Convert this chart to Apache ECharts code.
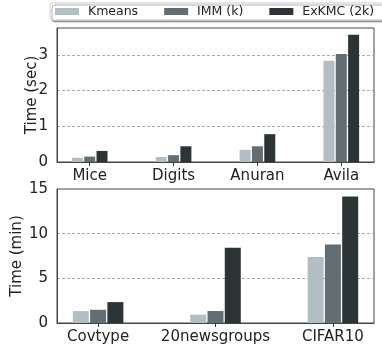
<!DOCTYPE html>
<html><head><meta charset="utf-8">
<script src="https://cdn.jsdelivr.net/npm/echarts@6/dist/echarts.min.js"></script>
<style>html,body{margin:0;padding:0;background:#fff}#c{width:382px;height:351px}</style>
</head><body><div id="c"></div>
<script>
var seriesNames = ['Kmeans', 'IMM (k)', 'ExKMC (2k)'];
var colors = ['#b2bec3', '#636e72', '#2d3436'];
var catsTop = ['Mice', 'Digits', 'Anuran', 'Avila'];
var kmeansTop = [0.12, 0.14, 0.34, 2.83];
var immTop = [0.15, 0.19, 0.44, 3.02];
var exkmcTop = [0.31, 0.44, 0.78, 3.56];
var catsBot = ['Covtype', '20newsgroups', 'CIFAR10'];
var kmeansBot = [1.34, 0.93, 7.39];
var immBot = [1.48, 1.34, 8.8];
var exkmcBot = [2.34, 8.43, 14.16];

var FONT = 'DejaVu Sans';
var chart = echarts.init(document.getElementById('c'));

function pts(arr) { return arr.map(function (v, i) { return [i, v]; }); }
function idx(n) { var a = []; for (var i = 0; i < n; i++) a.push(i); return a; }

function xAx(gi, cats, pad) {
  return {
    type: 'value', gridIndex: gi, min: -pad, max: cats.length - 1 + pad,
    splitLine: { show: false },
    axisLine: { show: true, onZero: false, lineStyle: { color: '#444', width: 1 } },
    axisTick: { show: true, customValues: idx(cats.length), length: 4, lineStyle: { color: '#333' } },
    axisLabel: {
      customValues: idx(cats.length), margin: 7,
      formatter: function (v) { return cats[Math.round(v)]; },
      fontFamily: FONT, fontSize: 15, color: '#222'
    }
  };
}
function yAx(gi, max, interval, name, gap) {
  return {
    type: 'value', gridIndex: gi, min: 0, max: max, interval: interval,
    name: name, nameLocation: 'middle', nameGap: gap, nameMoveOverlap: false,
    nameTextStyle: { fontFamily: FONT, fontSize: 15, color: '#222' },
    axisLine: { show: true, onZero: false, lineStyle: { color: '#444', width: 1 } },
    axisTick: { show: false },
    axisLabel: { margin: 9, fontFamily: FONT, fontSize: 15, color: '#222', showMaxLabel: max % interval === 0 },
    splitLine: { show: true, showMinLine: false, showMaxLine: false, lineStyle: { color: '#aaa', type: [3, 2], width: 1 } }
  };
}
var series = [];
var topData = [kmeansTop, immTop, exkmcTop];
var botData = [kmeansBot, immBot, exkmcBot];
for (var s = 0; s < 3; s++) {
  series.push({ name: seriesNames[s], type: 'bar', xAxisIndex: 0, yAxisIndex: 0, data: pts(topData[s]),
    barWidth: 11, barGap: '12%', itemStyle: { color: colors[s] } });
}
for (var s = 0; s < 3; s++) {
  series.push({ name: seriesNames[s], type: 'bar', xAxisIndex: 1, yAxisIndex: 1, data: pts(botData[s]),
    barWidth: 16, barGap: '8%', itemStyle: { color: colors[s] } });
}
chart.setOption({
  animation: false,
  textStyle: { fontFamily: FONT },
  legend: {
    data: seriesNames, left: 50, top: 3, width: 500, orient: 'horizontal',
    itemWidth: 24, itemHeight: 7, itemGap: 26,
    icon: 'rect', padding: [2, 10, 2, 5],
    formatter: function (n) { return ' ' + n; },
    textStyle: { fontFamily: FONT, fontSize: 12.5, color: '#222' },
    backgroundColor: '#fff', borderColor: '#ccc', borderWidth: 1, borderRadius: 3,
    shadowColor: 'rgba(0,0,0,0.3)', shadowOffsetX: 2, shadowOffsetY: 2, shadowBlur: 0
  },
  grid: [
    { left: 57, top: 28, right: 8, height: 134, show: true, borderColor: '#444', borderWidth: 1, backgroundColor: 'transparent' },
    { left: 57, top: 189, right: 8, height: 134, show: true, borderColor: '#444', borderWidth: 1, backgroundColor: 'transparent' }
  ],
  xAxis: [xAx(0, catsTop, 0.39), xAx(1, catsBot, 0.35)],
  yAxis: [yAx(0, 3.75, 1, 'Time (sec)', 17), yAx(1, 15, 5, 'Time (min)', 32)],
  series: series
});
</script></body></html>
